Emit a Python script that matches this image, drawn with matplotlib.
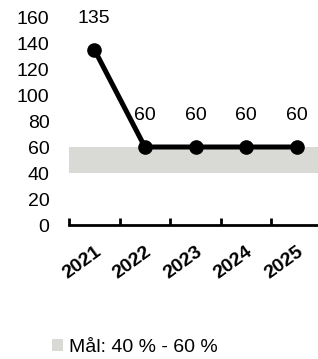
import matplotlib
matplotlib.use("Agg")
import matplotlib.pyplot as plt
from matplotlib.patches import Patch
import numpy as np

years = ['2021', '2022', '2023', '2024', '2025']
values = [135, 60, 60, 60, 60]
target_low, target_high = 40, 60
target_label = 'Mål: 40 % - 60 %'
yticks = [0, 20, 40, 60, 80, 100, 120, 140, 160]

plt.rcParams['font.family'] = ['Liberation Sans', 'DejaVu Sans']
FS = 14
band_color = '#d9d9d6'

fig = plt.figure(figsize=(3.18, 3.59), dpi=100)
ax = fig.add_axes([69 / 318, 134 / 359, 253 / 318, 208 / 359])

x = np.arange(len(years)) + 0.5

# target band
ax.axhspan(target_low, target_high, color=band_color, lw=0, zorder=1)

ax.plot(x, values, color='black', lw=3.6, marker='o', markersize=9.5,
        zorder=3, clip_on=False)
for xi, v in zip(x, values):
    ax.annotate(str(v), (xi, v), xytext=(0, 22.5), textcoords='offset points',
                ha='center', va='center', fontsize=FS, zorder=4)

ax.set_xlim(0, len(years))
ax.set_ylim(0, 160)

for s in ['top', 'right', 'left']:
    ax.spines[s].set_visible(False)
ax.spines['bottom'].set_linewidth(2)
ax.spines['bottom'].set_zorder(5)

ax.set_yticks(yticks)
ax.tick_params(axis='y', length=0, pad=14, labelsize=FS)

ax.set_xticks(np.arange(len(years) + 1))
ax.set_xticklabels([])
ax.tick_params(axis='x', which='major', direction='in', length=5, width=2)
ax.set_xticks(x, minor=True)
ax.set_xticklabels(years, minor=True, rotation=36, ha='right',
                   rotation_mode='anchor', fontweight='bold', fontsize=FS)
ax.tick_params(axis='x', which='minor', length=0, pad=13)

fig.legend(handles=[Patch(facecolor=band_color, edgecolor='none')],
           labels=[target_label], loc='center left',
           bbox_to_anchor=(0.165, 0.033), frameon=False, fontsize=FS,
           handlelength=0.55, handleheight=0.55, handletextpad=0.3,
           borderaxespad=0, borderpad=0)

fig.savefig('out.png', dpi=100)
